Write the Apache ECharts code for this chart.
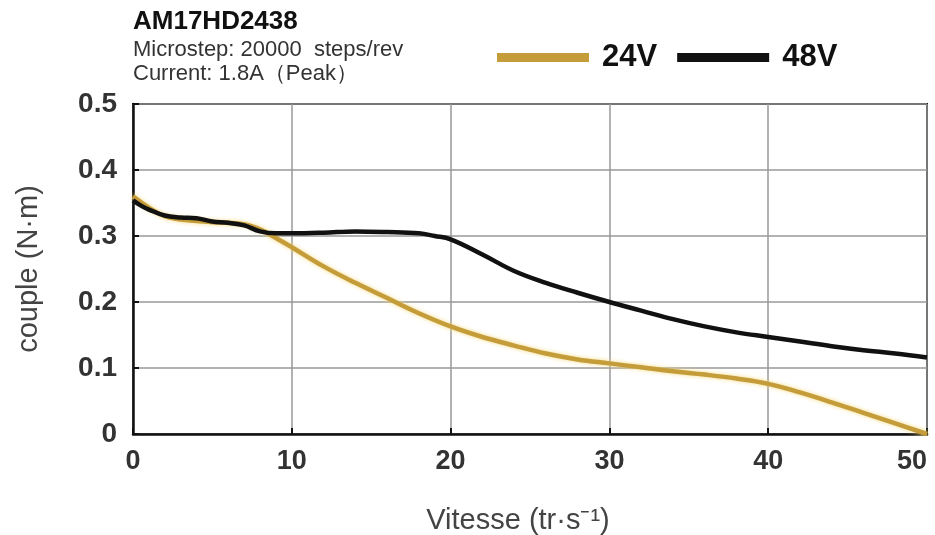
<!DOCTYPE html>
<html>
<head>
<meta charset="utf-8">
<script src="https://cdn.jsdelivr.net/npm/echarts@6/dist/echarts.min.js"></script>
<style>html,body{margin:0;padding:0;background:#fff}#c{width:935px;height:535px}</style>
</head>
<body>
<div id="c"></div>
<script>
const speed24 = [0, 1, 2, 3, 5, 7, 8, 9, 10, 12, 14, 16, 18, 20, 22, 24, 26, 28, 30, 32, 34, 36, 38, 40, 42, 44, 46, 48, 50];
const torque24 = [0.360, 0.343, 0.330, 0.325, 0.321, 0.318, 0.310, 0.297, 0.283, 0.254, 0.229, 0.206, 0.183, 0.163, 0.147, 0.134, 0.122, 0.113, 0.107, 0.101, 0.095, 0.090, 0.084, 0.076, 0.063, 0.048, 0.032, 0.016, 0.0];
const speed48 = [0, 0.5, 1, 2, 3, 4, 5, 6, 7, 8, 9, 10, 12, 14, 16, 18, 19, 20, 22, 24, 26, 28, 30, 32, 34, 36, 38, 40, 42, 44, 46, 48, 50];
const torque48 = [0.354, 0.346, 0.340, 0.331, 0.328, 0.327, 0.322, 0.320, 0.316, 0.307, 0.304, 0.304, 0.305, 0.307, 0.306, 0.304, 0.300, 0.295, 0.272, 0.247, 0.229, 0.214, 0.200, 0.187, 0.174, 0.163, 0.154, 0.147, 0.140, 0.133, 0.127, 0.122, 0.116];
const xTicks = [0, 10, 20, 30, 40, 50];
const yTicks = [0, 0.1, 0.2, 0.3, 0.4, 0.5];

const pair = (xs, ys) => xs.map((x, i) => [x, ys[i]]);
const chart = echarts.init(document.getElementById('c'));
const FONT = 'Liberation Sans, Arial, sans-serif';
chart.setOption({
  animation: false,
  backgroundColor: '#fff',
  title: {
    text: 'AM17HD2438',
    subtext: 'Microstep: 20000  steps/rev\nCurrent: 1.8A（Peak）',
    left: 128, top: 4,
    itemGap: 3,
    textStyle: { fontFamily: FONT, fontSize: 26, fontWeight: 'bold', color: '#111' },
    subtextStyle: { fontFamily: FONT, fontSize: 22, color: '#333', lineHeight: 24 }
  },
  legend: {
    left: 492, top: 37,
    itemWidth: 92, itemHeight: 9, itemGap: 20,
    icon: 'rect',
    textStyle: { fontFamily: FONT, fontSize: 31, fontWeight: 'bold', color: '#111', padding: [0, 0, 0, 8] },
    data: ['24V', '48V']
  },
  grid: {
    left: 133, right: 8, top: 104, bottom: 101,
    outerBoundsMode: 'none',
    show: true, borderColor: '#111', borderWidth: 2, backgroundColor: '#fff'
  },
  xAxis: {
    type: 'value', min: 0, max: 50, interval: 10,
    name: 'Vitesse (tr·s⁻¹)', nameLocation: 'middle', nameGap: 72,
    nameTextStyle: { fontFamily: FONT, fontSize: 29, color: '#444', padding: [0, 24, 0, 0] },
    axisLine: { show: true, lineStyle: { color: '#111', width: 2.5 } },
    axisTick: { show: true, inside: true, length: 6, lineStyle: { color: '#111', width: 2 } },
    axisLabel: {
      fontFamily: FONT, fontSize: 27, fontWeight: 'bold', color: '#333', margin: 14,
      alignMaxLabel: 'right',
      customValues: xTicks, formatter: v => String(v)
    },
    splitLine: { show: true, lineStyle: { color: '#999', width: 1.5 } }
  },
  yAxis: {
    type: 'value', min: 0, max: 0.5, interval: 0.1,
    name: 'couple (N·m)', nameLocation: 'middle', nameGap: 90,
    nameTextStyle: { fontFamily: FONT, fontSize: 29, color: '#444' },
    axisLine: { show: true, lineStyle: { color: '#111', width: 2.5 } },
    axisTick: { show: true, inside: true, length: 6, lineStyle: { color: '#111', width: 2 } },
    axisLabel: {
      fontFamily: FONT, fontSize: 28, fontWeight: 'bold', color: '#333', margin: 16,
      customValues: yTicks,
      formatter: v => v === 0 ? '0' : v.toFixed(1)
    },
    splitLine: { show: true, lineStyle: { color: '#999', width: 1.5 } }
  },
  series: [
    {
      name: '24V', type: 'line', smooth: 0.4, showSymbol: false,
      data: pair(speed24, torque24),
      color: '#c49d3a',
      lineStyle: { width: 4.5, color: '#c49d3a', shadowColor: 'rgba(245,215,120,0.9)', shadowBlur: 4 },
      z: 2
    },
    {
      name: '48V', type: 'line', smooth: 0.4, showSymbol: false,
      data: pair(speed48, torque48),
      color: '#111',
      lineStyle: { width: 4.5, color: '#111' },
      z: 3
    }
  ]
});
</script>
</body>
</html>
